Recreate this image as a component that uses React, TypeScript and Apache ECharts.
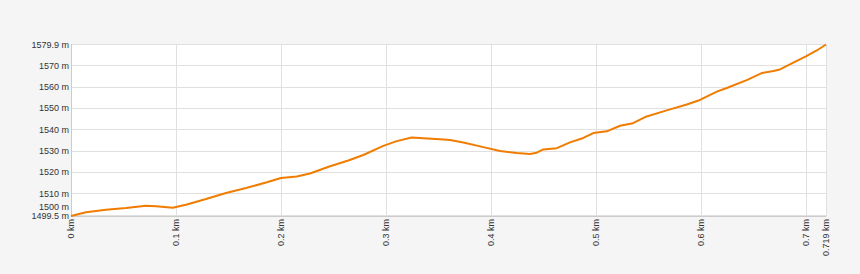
import React, { useEffect, useRef } from "react";
import * as echarts from "echarts";

// distance along track (km)
const distanceKm = [
  0.0, 0.0143, 0.0333, 0.0524, 0.0714, 0.081, 0.0969, 0.1095, 0.1286, 0.1476,
  0.1667, 0.1857, 0.2, 0.215, 0.2276, 0.2467, 0.2641, 0.2784, 0.2974, 0.3102,
  0.3245, 0.3355, 0.3514, 0.361, 0.3736, 0.3927, 0.4086, 0.4245, 0.4371, 0.4435,
  0.4498, 0.4626, 0.4752, 0.4879, 0.4974, 0.5102, 0.5229, 0.5352, 0.5467, 0.5673,
  0.5864, 0.599, 0.615, 0.6245, 0.6435, 0.6578, 0.6689, 0.6752, 0.6879, 0.7003,
  0.7102, 0.719,
];

// elevation (m)
const elevationM = [
  1499.5, 1501.3, 1502.4, 1503.2, 1504.3, 1504.1, 1503.4, 1504.8, 1507.5, 1510.3,
  1512.6, 1515.2, 1517.3, 1518.0, 1519.4, 1522.8, 1525.5, 1528.1, 1532.4, 1534.6,
  1536.3, 1536.0, 1535.5, 1535.1, 1534.0, 1531.8, 1530.0, 1529.0, 1528.6, 1529.2,
  1530.7, 1531.3, 1534.0, 1536.1, 1538.4, 1539.2, 1541.8, 1543.0, 1545.9, 1549.0,
  1551.8, 1553.9, 1557.8, 1559.5, 1563.2, 1566.5, 1567.5, 1568.2, 1571.4, 1574.5,
  1577.1, 1579.9,
];

const yMin = 1499.5;
const yMax = 1579.9;
const xMin = 0;
const xMax = 0.719;
const xStep = 0.1;
// label that the original nudges upward to avoid the min label
const nudgedYLabels = [1500];

export default function App() {
  const ref = useRef<HTMLDivElement>(null);

  useEffect(() => {
    if (!ref.current) return;
    const chart = echarts.init(ref.current, undefined, { renderer: "svg" });
    const data = distanceKm.map((d, i) => [d, elevationM[i]]);
    const labelFont = {
      fontFamily: "'Liberation Sans', Arial, sans-serif",
      fontSize: 9,
      color: "#333",
    };
    const fmtY = (v: number) => `${+v.toFixed(1)} m`;
    chart.setOption({
      animation: false,
      backgroundColor: "#f5f5f5",
      grid: {
        left: 71,
        right: 34,
        top: 44.5,
        bottom: 58,
        show: true,
        backgroundColor: "#ffffff",
        borderWidth: 0,
        containLabel: false,
      },
      xAxis: {
        type: "value",
        min: xMin,
        max: xMax,
        interval: xStep,
        axisLine: { show: true, lineStyle: { color: "#cccccc", width: 1 } },
        axisTick: { show: false },
        splitLine: { show: true, lineStyle: { color: "#e0e0e0", width: 1 } },
        axisLabel: {
          ...labelFont,
          rotate: 90,
          margin: 3,
          showMinLabel: true,
          showMaxLabel: true,
          hideOverlap: false,
          formatter: (v: number) => `${+v.toFixed(3)} km`,
        },
      },
      yAxis: [
        {
          type: "value",
          min: yMin,
          max: yMax,
          splitNumber: 8,
          axisLine: { show: true, lineStyle: { color: "#cccccc", width: 1 } },
          axisTick: { show: false },
          splitLine: { show: true, lineStyle: { color: "#e0e0e0", width: 1 } },
          axisLabel: {
            ...labelFont,
            lineHeight: 8,
            margin: 2,
            showMinLabel: true,
            showMaxLabel: true,
            hideOverlap: false,
            formatter: (v: number) =>
              nudgedYLabels.includes(v) ? "" : fmtY(v),
          },
        },
        {
          type: "value",
          position: "left",
          min: yMin,
          max: yMax,
          axisLine: { show: false },
          axisTick: { show: false },
          splitLine: { show: false },
          axisLabel: {
            ...labelFont,
            margin: 2,
            customValues: nudgedYLabels,
            showMinLabel: true,
            showMaxLabel: true,
            hideOverlap: false,
            formatter: (v: number) => `{up|${fmtY(v)}}`,
            rich: {
              up: {
                ...labelFont,
                lineHeight: 8,
                padding: [0, 0, 16, 0],
              },
            },
          },
        },
      ],
      series: [
        {
          type: "line",
          data,
          yAxisIndex: 0,
          showSymbol: false,
          smooth: false,
          lineStyle: { color: "#f07c00", width: 2 },
          itemStyle: { color: "#f07c00" },
        },
      ],
    });
    return () => chart.dispose();
  }, []);

  return (
    <div
      ref={ref}
      style={{ position: "fixed", left: 0, top: 0, width: 860, height: 274 }}
    />
  );
}
